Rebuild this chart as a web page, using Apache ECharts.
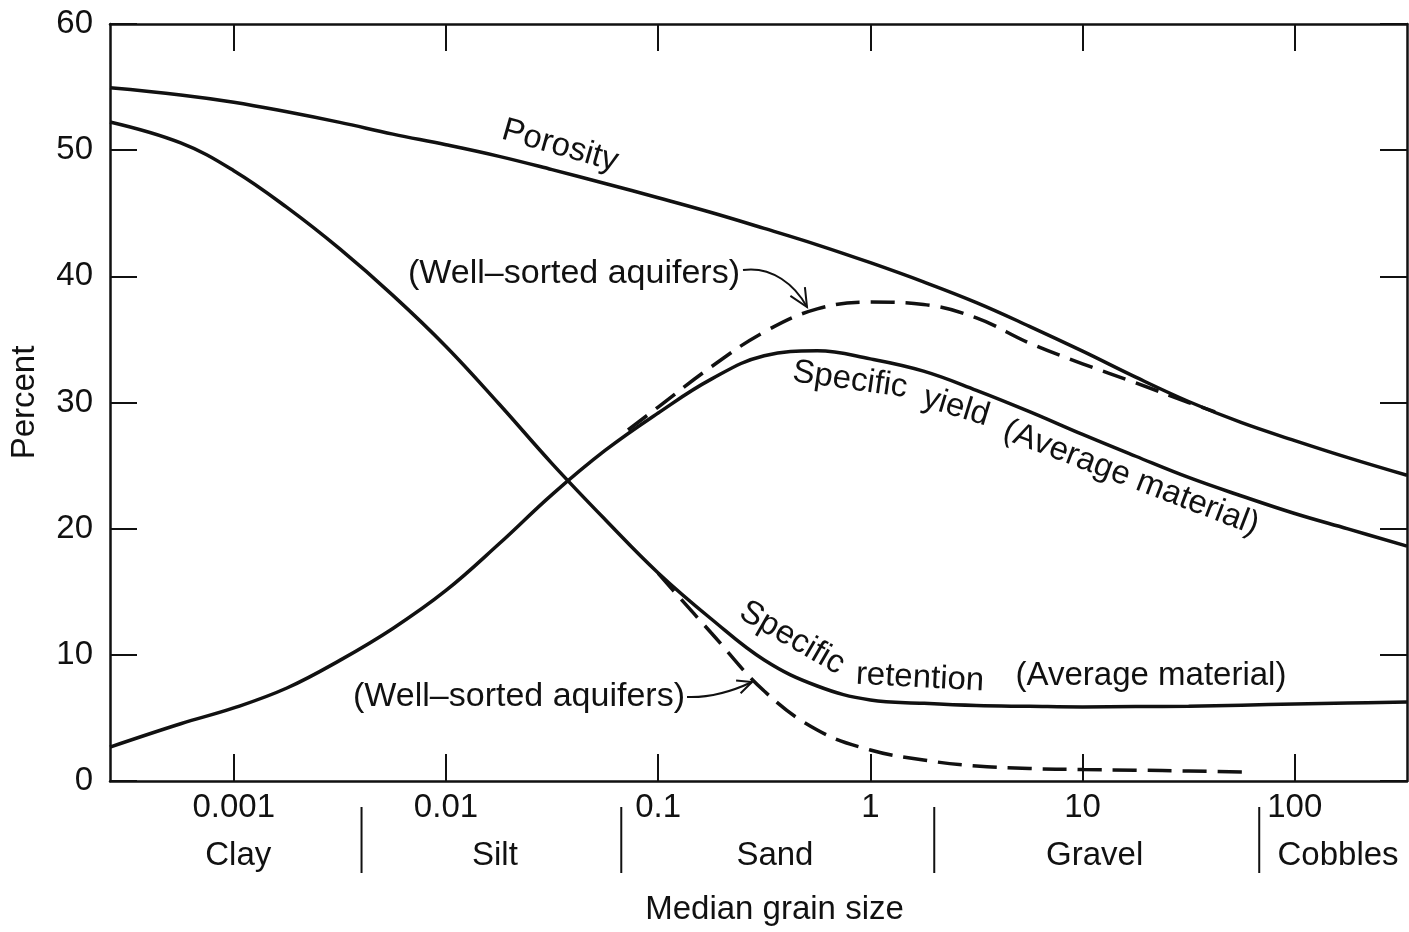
<!DOCTYPE html>
<html><head><meta charset="utf-8">
<script src="https://cdn.jsdelivr.net/npm/echarts@6/dist/echarts.min.js"></script>
<style>html,body{margin:0;padding:0;background:#fff}#c{width:1409px;height:932px}</style>
</head><body><div id="c"></div>
<script>
// ---- data (grain size in mm, values in percent) ----
const tickValues = [0.001, 0.01, 0.1, 1, 10, 100];
const tickLabels = ['0.001', '0.01', '0.1', '1', '10', '100'];
const zoneNames = ['Clay', 'Silt', 'Sand', 'Gravel', 'Cobbles'];
const zoneLabelAt = [0.00105, 0.017, 0.355, 11.4, 160];
const zoneBounds = [0.004, 0.067, 2, 68];
const xRangeMm = [0.000261, 338];
const yTicks = [0, 10, 20, 30, 40, 50, 60];

// shared grain sizes (mm) for the three average-material curves
const grainSize = [0.000261, 0.000562, 0.001, 0.00178, 0.00316, 0.00562, 0.01, 0.0178, 0.0316, 0.0562, 0.1, 0.178, 0.316, 0.562, 1, 1.78, 3.16, 5.62, 10, 17.8, 31.6, 56.2, 100, 178, 338];
const porosity = [54.94, 54.38, 53.80, 53.04, 52.20, 51.27, 50.43, 49.51, 48.46, 47.36, 46.23, 45.06, 43.80, 42.50, 41.08, 39.56, 37.92, 36.04, 34.07, 32.01, 30.08, 28.40, 26.98, 25.63, 24.23];
const specificRetention = [52.23, 50.57, 48.37, 45.46, 42.17, 38.49, 34.44, 29.88, 25.16, 20.73, 16.49, 12.84, 9.59, 7.53, 6.42, 6.16, 5.98, 5.92, 5.87, 5.90, 5.93, 6.01, 6.10, 6.18, 6.26];
const specificYield = [2.69, 4.54, 5.79, 7.37, 9.56, 12.09, 15.1, 18.8, 22.7, 26.2, 29.17, 31.85, 33.71, 34.10, 33.46, 32.49, 30.97, 29.28, 27.47, 25.74, 24.06, 22.59, 21.20, 19.98, 18.62];

// well-sorted aquifers (dashed)
const wsYieldX = [0.0721, 0.1, 0.178, 0.316, 0.562, 1, 1.78, 3.16, 5.62, 10, 17.8, 31.6, 42.1];
const wsYieldY = [27.82, 29.64, 32.83, 35.59, 37.42, 37.96, 37.77, 36.70, 34.71, 33.07, 31.56, 30.00, 29.25];
const wsRetentionX = [0.1, 0.178, 0.316, 0.562, 1, 1.78, 3.16, 5.62, 10, 17.8, 31.6, 61.5];
const wsRetentionY = [16.45, 11.73, 7.13, 4.04, 2.46, 1.66, 1.19, 0.99, 0.91, 0.86, 0.79, 0.70];

// ---- rendering ----
const FONT = '"Liberation Sans", Arial, sans-serif';
const INK = '#111';
const L = v => Math.log10(v);
const pts = (xs, ys) => xs.map((x, i) => [L(x), ys[i]]);
const labelOf = v => { const i = tickValues.findIndex(t => Math.abs(L(t) - v) < 1e-6); return i >= 0 ? tickLabels[i] : ''; };
const zoneOf = v => { const i = zoneLabelAt.findIndex(t => Math.abs(L(t) - v) < 1e-6); return i >= 0 ? zoneNames[i] : ''; };

const xMin = L(xRangeMm[0]), xMax = L(xRangeMm[1]);
const tickLogs = tickValues.map(L);
const frameLine = { show: true, onZero: false, lineStyle: { color: INK, width: 2.5 } };
const inTick = { show: true, inside: true, length: 27, lineStyle: { color: INK, width: 2 } };

const solid = { color: INK, width: 3.5 };
const dashed = { color: INK, width: 3.5, type: [24, 11] };
function line(data, style) {
  return { type: 'line', data, smooth: 0.4, showSymbol: false, silent: true, lineStyle: style, itemStyle: { color: INK }, xAxisIndex: 0, yAxisIndex: 0 };
}

const chart = echarts.init(document.getElementById('c'), null, { renderer: 'canvas' });
const textStyle = { fontFamily: FONT, fontSize: 33, color: INK };

function txt(s, x, y, deg, size) {
  return {
    type: 'text', x, y, rotation: deg * Math.PI / 180, silent: true,
    style: { text: s, fill: INK, fontFamily: FONT, fontSize: size || 33,
      align: 'center', verticalAlign: 'middle', textAlign: 'center', textVerticalAlign: 'middle' }
  };
}
function arrow(p0, c1, c2, p1, w1, w2) {
  return [
    { type: 'bezierCurve', silent: true, shape: { x1: p0[0], y1: p0[1], cpx1: c1[0], cpy1: c1[1], cpx2: c2[0], cpy2: c2[1], x2: p1[0], y2: p1[1] }, style: { stroke: INK, lineWidth: 2, fill: null } },
    { type: 'polyline', silent: true, shape: { points: [w1, p1, w2] }, style: { stroke: INK, lineWidth: 2, fill: null } }
  ];
}

chart.setOption({
  animation: false,
  backgroundColor: '#fff',
  textStyle: { fontFamily: FONT },
  grid: { left: 110, right: 2, top: 24, bottom: 151, containLabel: false },
  xAxis: [
    {
      type: 'value', position: 'bottom', min: xMin, max: xMax,
      axisLine: frameLine,
      axisTick: Object.assign({ customValues: tickLogs }, inTick),
      axisLabel: { customValues: tickLogs, formatter: v => labelOf(v), margin: 10, ...textStyle },
      splitLine: { show: false },
      name: 'Median grain size', nameLocation: 'middle', nameGap: 112,
      nameTextStyle: { ...textStyle, padding: [0, 0, 0, 32] }
    },
    {
      type: 'value', position: 'top', min: xMin, max: xMax,
      axisLine: frameLine,
      axisTick: Object.assign({ customValues: tickLogs }, inTick),
      axisLabel: { show: false }, splitLine: { show: false }
    },
    {
      type: 'value', position: 'bottom', offset: 26, min: xMin, max: xMax,
      axisLine: { show: false },
      axisTick: { show: false },
      axisLabel: { customValues: zoneLabelAt.map(L), formatter: v => zoneOf(v), margin: 32, ...textStyle },
      splitLine: { show: false }
    }
  ],
  yAxis: [
    {
      type: 'value', position: 'left', min: yTicks[0], max: yTicks[yTicks.length - 1], interval: 10,
      axisLine: frameLine, axisTick: inTick,
      axisLabel: { margin: 17, ...textStyle },
      splitLine: { show: false },
      name: 'Percent', nameLocation: 'middle', nameGap: 69, nameTextStyle: textStyle
    },
    {
      type: 'value', position: 'right', min: yTicks[0], max: yTicks[yTicks.length - 1], interval: 10,
      axisLine: frameLine, axisTick: inTick,
      axisLabel: { show: false }, splitLine: { show: false }
    }
  ],
  series: [
    line(pts(grainSize, porosity), solid),
    line(pts(grainSize, specificRetention), solid),
    line(pts(wsRetentionX, wsRetentionY), dashed),
    line(pts(grainSize, specificYield), solid),
    line(pts(wsYieldX, wsYieldY), dashed)
  ]
});

// zone separators below the axis, placed through the x scale
const separators = zoneBounds.map(b => {
  const x = chart.convertToPixel({ xAxisIndex: 0 }, L(b));
  return { type: 'line', silent: true, shape: { x1: x, y1: 807, x2: x, y2: 873 }, style: { stroke: INK, lineWidth: 2 } };
});

chart.setOption({
  graphic: [
    ...separators,
    txt('Porosity', 560, 146, -16),
    txt('Specific', 850, 380, -8),
    txt('yield', 956, 407, -17),
    txt('(Average material)', 1131, 478, -21),
    txt('Specific', 792, 638, -30),
    txt('retention', 920, 678, -3),
    txt('(Average material)', 1151, 676, 0),
    txt('(Well\u2013sorted aquifers)', 574, 274, 0, 34),
    txt('(Well\u2013sorted aquifers)', 519, 697, 0, 34),
    ...arrow([743, 270], [772, 266], [795, 285], [807, 307], [790.4, 295.8], [804.9, 287.1]),
    ...arrow([687, 697], [712, 698], [735, 690], [752, 682], [740.6, 693.2], [736.1, 680.4])
  ]
});
</script></body></html>
